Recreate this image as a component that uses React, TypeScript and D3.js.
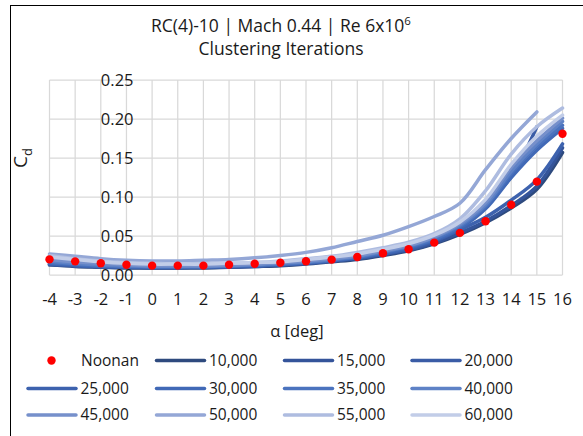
import { useEffect, useRef } from "react";
import * as d3 from "d3";

const W = 583;
const H = 436;
const FONT = "'Open Sans', 'Noto Sans', sans-serif";
const INK = "#1a1a1a";

// angle of attack, deg
const ALPHA = [-4, -3, -2, -1, 0, 1, 2, 3, 4, 5, 6, 7, 8, 9, 10, 11, 12, 13, 14, 15, 16];
const X_TICKS = ALPHA;
const Y_TICKS = [0, 0.05, 0.1, 0.15, 0.2, 0.25];

// Noonan reference data (Cd)
const NOONAN = [0.020, 0.0175, 0.015, 0.0132, 0.012, 0.012, 0.012, 0.0132, 0.0145, 0.0158, 0.0176, 0.0197, 0.0231, 0.0278, 0.033, 0.0415, 0.054, 0.069, 0.090, 0.1197, 0.181];

// clustering iterations (Cd per alpha)
const C10000 = [0.013, 0.011, 0.010, 0.009, 0.009, 0.009, 0.009, 0.010, 0.011, 0.012, 0.014, 0.017, 0.020, 0.025, 0.031, 0.040, 0.052, 0.067, 0.086, 0.110, 0.157];
const C15000 = [0.013, 0.012, 0.010, 0.010, 0.009, 0.009, 0.010, 0.010, 0.011, 0.013, 0.015, 0.018, 0.021, 0.026, 0.032, 0.041, 0.054, 0.069, 0.089, 0.114, 0.163];
const C20000 = [0.014, 0.012, 0.011, 0.010, 0.010, 0.010, 0.010, 0.011, 0.012, 0.013, 0.015, 0.018, 0.022, 0.027, 0.033, 0.043, 0.060, 0.090, 0.126, 0.190];
const C25000 = [0.014, 0.012, 0.011, 0.010, 0.010, 0.010, 0.010, 0.011, 0.012, 0.013, 0.015, 0.018, 0.022, 0.027, 0.034, 0.044, 0.058, 0.074, 0.096, 0.122, 0.168];
const C30000 = [0.015, 0.013, 0.011, 0.011, 0.010, 0.010, 0.011, 0.011, 0.012, 0.014, 0.016, 0.019, 0.023, 0.028, 0.035, 0.045, 0.060, 0.085, 0.125, 0.160, 0.188];
const C35000 = [0.016, 0.014, 0.012, 0.011, 0.011, 0.011, 0.011, 0.012, 0.013, 0.014, 0.016, 0.019, 0.023, 0.029, 0.036, 0.046, 0.062, 0.088, 0.130, 0.165, 0.192];
const C40000 = [0.018, 0.015, 0.013, 0.012, 0.011, 0.011, 0.011, 0.012, 0.013, 0.015, 0.017, 0.020, 0.024, 0.030, 0.037, 0.048, 0.064, 0.090, 0.133, 0.168, 0.197];
const C45000 = [0.020, 0.017, 0.015, 0.013, 0.012, 0.012, 0.012, 0.013, 0.014, 0.016, 0.018, 0.021, 0.025, 0.031, 0.038, 0.049, 0.066, 0.093, 0.138, 0.172, 0.201];
const C50000 = [0.027, 0.024, 0.021, 0.019, 0.018, 0.018, 0.019, 0.020, 0.022, 0.025, 0.029, 0.035, 0.043, 0.051, 0.062, 0.075, 0.092, 0.135, 0.175, 0.209];
const C55000 = [0.025, 0.021, 0.018, 0.016, 0.015, 0.014, 0.015, 0.015, 0.016, 0.018, 0.021, 0.024, 0.029, 0.035, 0.042, 0.053, 0.072, 0.108, 0.155, 0.190, 0.214];
const C60000 = [0.023, 0.020, 0.017, 0.015, 0.014, 0.014, 0.014, 0.015, 0.016, 0.017, 0.020, 0.023, 0.027, 0.033, 0.040, 0.051, 0.068, 0.097, 0.142, 0.178, 0.205];

const SERIES_NAMES = ["10,000", "15,000", "20,000", "25,000", "30,000", "35,000", "40,000", "45,000", "50,000", "55,000", "60,000"];
const SERIES_VALUES = [C10000, C15000, C20000, C25000, C30000, C35000, C40000, C45000, C50000, C55000, C60000];
const SERIES_COLORS = ["#2E4A7E", "#34549A", "#3A5CA6", "#3D62AE", "#4169B6", "#4B73BE", "#5E82C6", "#7690CB", "#94A7D6", "#AEBCE0", "#C2CDE8"];

const PLOT = { left: 49.5, right: 562.5, top: 80, bottom: 275 };

export default function App() {
  const svgRef = useRef<SVGSVGElement | null>(null);

  useEffect(() => {
    if (!svgRef.current) return;
    const svg = d3.select(svgRef.current);
    svg.selectAll("*").remove();

    svg.append("rect").attr("width", W).attr("height", H).attr("fill", "#fff");
    // chart frame (runs off the picture on the right and bottom)
    svg
      .append("rect")
      .attr("x", 10.5)
      .attr("y", 5.5)
      .attr("width", 700)
      .attr("height", 600)
      .attr("fill", "none")
      .attr("stroke", "#000")
      .attr("stroke-width", 1);

    const x = d3.scaleLinear().domain([-4, 16]).range([PLOT.left, PLOT.right]);
    const y = d3.scaleLinear().domain([0, 0.25]).range([PLOT.bottom, PLOT.top]);

    // Title
    const title = svg
      .append("text")
      .attr("x", 281)
      .attr("y", 32)
      .attr("text-anchor", "middle")
      .attr("font-family", FONT)
      .attr("font-size", 17.5)
      .attr("fill", INK);
    title.append("tspan").text("RC(4)-10 | Mach 0.44 | Re 6x10");
    title.append("tspan").attr("dy", -7).attr("font-size", 11.5).text("6");
    svg
      .append("text")
      .attr("x", 281)
      .attr("y", 55)
      .attr("text-anchor", "middle")
      .attr("font-family", FONT)
      .attr("font-size", 17.5)
      .attr("fill", INK)
      .text("Clustering Iterations");

    // Grid
    const grid = svg.append("g").attr("stroke", "#D9D9D9").attr("stroke-width", 1.25);
    X_TICKS.forEach((t) => {
      grid.append("line").attr("x1", x(t)).attr("x2", x(t)).attr("y1", PLOT.top).attr("y2", PLOT.bottom);
    });
    Y_TICKS.forEach((t) => {
      grid.append("line").attr("x1", PLOT.left).attr("x2", PLOT.right).attr("y1", y(t)).attr("y2", y(t));
    });

    // Lines
    const line = d3
      .line<number>()
      .x((_d, i) => x(ALPHA[i]))
      .y((d) => y(d))
      .curve(d3.curveCatmullRom.alpha(0.5));
    SERIES_VALUES.forEach((vals, i) => {
      svg
        .append("path")
        .attr("d", line(vals) ?? "")
        .attr("fill", "none")
        .attr("stroke", SERIES_COLORS[i])
        .attr("stroke-width", 3.5)
        .attr("stroke-linecap", "round");
    });

    // Y tick labels (axis crosses at alpha = 0)
    Y_TICKS.forEach((t) => {
      svg
        .append("text")
        .attr("x", 133.5)
        .attr("y", y(t))
        .attr("dy", "0.35em")
        .attr("text-anchor", "end")
        .attr("font-family", FONT)
        .attr("font-size", 16.5)
        .attr("fill", INK)
        .text(d3.format(".2f")(t));
    });

    // Noonan points
    svg
      .append("g")
      .selectAll("circle")
      .data(NOONAN)
      .join("circle")
      .attr("cx", (_d, i) => x(ALPHA[i]))
      .attr("cy", (d) => y(d))
      .attr("r", 4.2)
      .attr("fill", "#FF0000");

    // X tick labels
    X_TICKS.forEach((t) => {
      svg
        .append("text")
        .attr("x", x(t))
        .attr("y", 305)
        .attr("text-anchor", "middle")
        .attr("font-family", FONT)
        .attr("font-size", 16.5)
        .attr("fill", INK)
        .text(String(t));
    });

    // Axis titles
    svg
      .append("text")
      .attr("x", 297)
      .attr("y", 337)
      .attr("text-anchor", "middle")
      .attr("font-family", FONT)
      .attr("font-size", 16.5)
      .attr("fill", INK)
      .text("α [deg]");
    const yt = svg
      .append("text")
      .attr("transform", "translate(27,158) rotate(-90)")
      .attr("text-anchor", "middle")
      .attr("font-family", FONT)
      .attr("font-size", 19)
      .attr("fill", INK);
    yt.append("tspan").text("C");
    yt.append("tspan").attr("dy", 5).attr("font-size", 13).text("d");

    // Legend
    const colX = [28, 156.5, 284.5, 412];
    const rowY = [360.5, 388.5, 415];
    const items = [{ name: "Noonan", color: "#FF0000", dot: true }].concat(
      SERIES_NAMES.map((n, i) => ({ name: n, color: SERIES_COLORS[i], dot: false }))
    );
    items.forEach((it, k) => {
      const cx = colX[k % 4];
      const cy = rowY[Math.floor(k / 4)];
      const g = svg.append("g");
      if (it.dot) {
        g.append("circle").attr("cx", 51.5).attr("cy", cy).attr("r", 4.2).attr("fill", it.color);
        g.append("text")
          .attr("x", 81)
          .attr("y", cy)
          .attr("dy", "0.35em")
          .attr("font-family", FONT)
          .attr("font-size", 15.5)
          .attr("fill", INK)
          .text(it.name);
      } else {
        g.append("line")
          .attr("x1", cx)
          .attr("x2", cx + 48)
          .attr("y1", cy)
          .attr("y2", cy)
          .attr("stroke", it.color)
          .attr("stroke-width", 3.5)
          .attr("stroke-linecap", "round");
        g.append("text")
          .attr("x", cx + 52.5)
          .attr("y", cy)
          .attr("dy", "0.35em")
          .attr("font-family", FONT)
          .attr("font-size", 15.5)
          .attr("fill", INK)
          .text(it.name);
      }
    });
  }, []);

  return (
    <svg
      ref={svgRef}
      width={W}
      height={H}
      style={{ position: "fixed", left: 0, top: 0, display: "block" }}
    />
  );
}
